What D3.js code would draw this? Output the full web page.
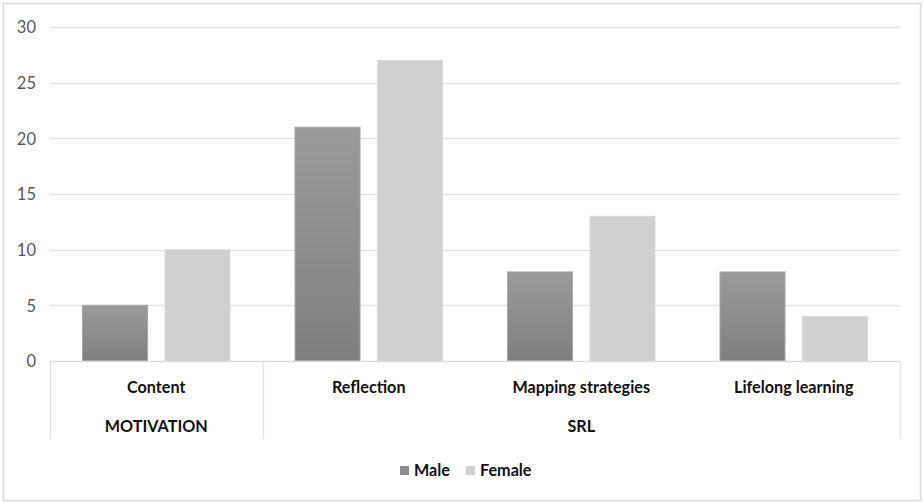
<!DOCTYPE html>
<html>
<head>
<meta charset="utf-8">
<script src="https://cdn.jsdelivr.net/npm/d3@7"></script>
<style>
  html, body { margin: 0; padding: 0; background: #fff; }
  svg { display: block; }
  text { font-family: Lato, "Open Sans", sans-serif; }
</style>
</head>
<body>
<svg id="chart" width="924" height="503"></svg>
<script>
// Counts by theme and gender
const categories = ["Content", "Reflection", "Mapping strategies", "Lifelong learning"];
const groups = [
  { name: "MOTIVATION", members: ["Content"] },
  { name: "SRL", members: ["Reflection", "Mapping strategies", "Lifelong learning"] }
];
const seriesNames = ["Male", "Female"];
const maleValues = [5, 21, 8, 8];
const femaleValues = [10, 27, 13, 4];
const yTicks = [0, 5, 10, 15, 20, 25, 30];

const seriesValues = { Male: maleValues, Female: femaleValues };

const svg = d3.select("#chart");
const W = 924, H = 503;
const plot = { left: 50, right: 900, top: 27, bottom: 361, axisBottom: 439 };

// Outer frame
svg.append("rect")
  .attr("x", 3.5).attr("y", 3.5)
  .attr("width", W - 7).attr("height", H - 6)
  .attr("fill", "#fff").attr("stroke", "#d9d9d9").attr("stroke-width", 1.5);

const defs = svg.append("defs");
const gradMale = defs.append("linearGradient")
  .attr("id", "gradMale").attr("x1", 0).attr("y1", 0).attr("x2", 0).attr("y2", 1);
gradMale.append("stop").attr("offset", "0%").attr("stop-color", "#9b9b9b");
gradMale.append("stop").attr("offset", "100%").attr("stop-color", "#7f7f7f");

const fills = { Male: "url(#gradMale)", Female: "#d0d0d0" };
const strokes = { Male: "#a6a6a6", Female: "#dadada" };
const legendFills = { Male: "#8c8c8c", Female: "#d0d0d0" };

const y = d3.scaleLinear().domain([0, 30]).range([plot.bottom, plot.top]);
const x0 = d3.scaleBand().domain(categories).range([plot.left, plot.right]).paddingInner(0).paddingOuter(0);
const x1 = d3.scaleBand().domain(seriesNames).range([0, x0.bandwidth()])
  .paddingInner(0.2).paddingOuter(0.388);

// Horizontal gridlines
svg.append("g").selectAll("line")
  .data(yTicks.filter(d => d !== 0))
  .join("line")
  .attr("x1", plot.left).attr("x2", plot.right)
  .attr("y1", d => Math.round(y(d)) + 0.5).attr("y2", d => Math.round(y(d)) + 0.5)
  .attr("stroke", "#e3e3e3").attr("stroke-width", 1.3);

// Y axis labels
const yAxis = d3.axisLeft(y).tickValues(yTicks).tickSize(0).tickPadding(0);
const yG = svg.append("g").attr("transform", `translate(${plot.left - 14},0)`).call(yAxis);
yG.select(".domain").remove();
yG.selectAll("text")
  .attr("fill", "#595959").attr("font-size", 16.5).attr("dy", "0.36em");

// Bars
const barG = svg.append("g");
categories.forEach((c, i) => {
  seriesNames.forEach(s => {
    const v = seriesValues[s][i];
    barG.append("rect")
      .attr("x", x0(c) + x1(s) + 0.5)
      .attr("y", y(v))
      .attr("width", x1.bandwidth() - 1)
      .attr("height", y(0) - y(v))
      .attr("fill", fills[s])
      .attr("stroke", strokes[s]).attr("stroke-width", 1);
  });
});

// Category axis: baseline, outer edges and group separators
const axisColor = "#e0e0e0";
const axisG = svg.append("g");
axisG.append("line")
  .attr("x1", plot.left).attr("x2", plot.right)
  .attr("y1", plot.bottom + 0.5).attr("y2", plot.bottom + 0.5)
  .attr("stroke", "#dcdcdc").attr("stroke-width", 1.3);

const boundaries = [plot.left];
groups.forEach(g => {
  const last = g.members[g.members.length - 1];
  boundaries.push(x0(last) + x0.bandwidth());
});
axisG.selectAll("line.sep")
  .data(boundaries)
  .join("line")
  .attr("class", "sep")
  .attr("x1", d => Math.round(d) + 0.5).attr("x2", d => Math.round(d) + 0.5)
  .attr("y1", plot.bottom).attr("y2", plot.axisBottom)
  .attr("stroke", axisColor).attr("stroke-width", 1.3);

const labelSize = 16.2;
const labelColor = "#111";

// Category labels
svg.append("g").selectAll("text")
  .data(categories)
  .join("text")
  .attr("x", d => x0(d) + x0.bandwidth() / 2)
  .attr("y", 393)
  .attr("text-anchor", "middle")
  .attr("font-size", labelSize).attr("font-weight", 700).attr("fill", labelColor)
  .text(d => d);

// Group labels
svg.append("g").selectAll("text")
  .data(groups)
  .join("text")
  .attr("x", g => {
    const a = x0(g.members[0]);
    const b = x0(g.members[g.members.length - 1]) + x0.bandwidth();
    return (a + b) / 2;
  })
  .attr("y", 432)
  .attr("text-anchor", "middle")
  .attr("font-size", labelSize).attr("font-weight", 700).attr("fill", labelColor)
  .text(g => g.name);

// Legend
const legend = svg.append("g");
const legendX = { Male: 400, Female: 466 };
seriesNames.forEach(s => {
  const lg = legend.append("g").attr("transform", `translate(${legendX[s]},466)`);
  lg.append("rect").attr("width", 9).attr("height", 9).attr("fill", legendFills[s]);
  lg.append("text")
    .attr("x", 14).attr("y", 9.5)
    .attr("font-size", labelSize).attr("font-weight", 700).attr("fill", labelColor)
    .text(s);
});
</script>
</body>
</html>
